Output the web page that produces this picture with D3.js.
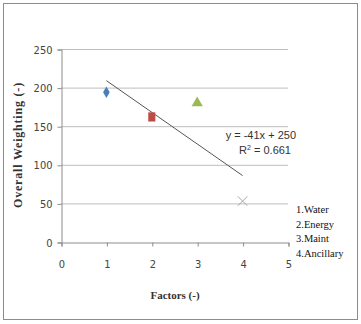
<!DOCTYPE html>
<html>
<head>
<meta charset="utf-8">
<script src="https://cdn.jsdelivr.net/npm/d3@7"></script>
<style>
  body { margin: 0; background: #fff; }
  .tick text { font-family: "Liberation Sans Narrow", "DejaVu Sans Condensed", Arial, sans-serif; font-size: 11px; fill: #444; }
  .title { font-family: "Liberation Serif", "Times New Roman", serif; font-size: 11px; font-weight: bold; fill: #333; }
  .ytitle { font-family: "Liberation Serif", "Times New Roman", serif; font-size: 12px; font-weight: bold; fill: #333; letter-spacing: 0.8px; }
  .legend { font-family: "Liberation Serif", "Times New Roman", serif; font-size: 10.5px; fill: #111; }
  .eq { font-family: "Liberation Sans Narrow", Arial, sans-serif; font-size: 11px; fill: #333; }
</style>
</head>
<body>
<div id="chart"></div>
<script>
// daten
const factors = [1, 2, 3, 4];
const weights = [194, 162, 180, 53];
const names = ["1.Water", "2.Energy", "3.Maint", "4.Ancillary"];
const colors = ["#4a7ebb", "#be4b48", "#98b954", "#a6a6a6"];
const xTicks = [0, 1, 2, 3, 4, 5];
const yTicks = [0, 50, 100, 150, 200, 250];
const trend = { slope: -41, intercept: 250, r2: 0.661 };

const svg = d3.select("#chart").append("svg")
  .attr("width", 361)
  .attr("height", 324);

// rahmen
svg.append("rect")
  .attr("x", 3.5).attr("y", 3.5)
  .attr("width", 354).attr("height", 316)
  .attr("fill", "none")
  .attr("stroke", "#8c8c8c");

const x = d3.scaleLinear().domain([0, 5]).range([61, 288]);
const y = d3.scaleLinear().domain([0, 250]).range([242, 49]);

// gitternetz
svg.append("g")
  .selectAll("line")
  .data(yTicks.slice(1))
  .enter().append("line")
  .attr("x1", x(0)).attr("x2", x(5))
  .attr("y1", d => y(d) + 0.5).attr("y2", d => y(d) + 0.5)
  .attr("stroke", "#bdbdbd");

// achsen
const yAxis = svg.append("g")
  .attr("transform", "translate(61.5,0.5)")
  .call(d3.axisLeft(y).tickValues(yTicks).tickSize(4).tickPadding(5));
const xAxis = svg.append("g")
  .attr("transform", "translate(0.5," + (y(0) + 0.5) + ")")
  .call(d3.axisBottom(x).tickValues(xTicks).tickFormat(d3.format("d")).tickSize(4).tickPadding(14));
[yAxis, xAxis].forEach(a => {
  a.select(".domain").attr("stroke", "#8c8c8c");
  a.selectAll(".tick line").attr("stroke", "#8c8c8c");
});

// trendlinie
svg.append("line")
  .attr("x1", x(1)).attr("y1", y(trend.slope * 1 + trend.intercept))
  .attr("x2", x(4)).attr("y2", y(trend.slope * 4 + trend.intercept))
  .attr("stroke", "#555")
  .attr("stroke-width", 1);

// punkte
const shapes = [d3.symbolDiamond, d3.symbolSquare, d3.symbolTriangle, d3.symbolX];
const sizes = [38, 70, 55, 60];
svg.append("g")
  .selectAll("path")
  .data(factors)
  .enter().append("path")
  .attr("transform", (d, i) => "translate(" + x(d) + "," + y(weights[i]) + ")" + (i === 1 ? " scale(0.85,1.1)" : ""))
  .attr("d", (d, i) => d3.symbol().type(shapes[i]).size(sizes[i])())
  .attr("fill", (d, i) => i === 3 ? "none" : colors[i])
  .attr("stroke", (d, i) => i === 3 ? colors[i] : "none")
  .attr("stroke-width", 1);

// gleichung
svg.append("text").attr("class", "eq")
  .attr("x", 296).attr("y", 139).attr("text-anchor", "end")
  .text("y = " + trend.slope + "x + " + trend.intercept);
svg.append("text").attr("class", "eq")
  .attr("x", 291).attr("y", 154).attr("text-anchor", "end")
  .html("R<tspan font-size='7' dy='-4'>2</tspan><tspan dy='4'> = " + trend.r2 + "</tspan>");

// legende
svg.append("g")
  .selectAll("text")
  .data(names)
  .enter().append("text")
  .attr("class", "legend")
  .attr("x", 296)
  .attr("y", (d, i) => 213 + i * 14.5)
  .text(d => d);

// achsentitel
svg.append("text").attr("class", "title")
  .attr("x", 175).attr("y", 299).attr("text-anchor", "middle")
  .text("Factors (-)");
svg.append("text").attr("class", "ytitle")
  .attr("transform", "translate(22,145) rotate(-90)")
  .attr("text-anchor", "middle")
  .text("Overall Weighting  (-)");
</script>
</body>
</html>
